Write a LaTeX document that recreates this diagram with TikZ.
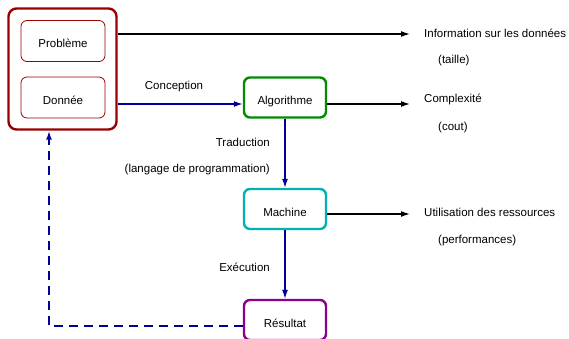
\documentclass[tikz,border=0pt]{standalone}
\usepackage{fontspec}
\setmainfont{Liberation Sans}
\usepackage{xcolor}
\definecolor{pbred}{RGB}{153,0,0}
\definecolor{algogreen}{RGB}{0,140,0}
\definecolor{machcyan}{RGB}{0,178,178}
\definecolor{respurple}{RGB}{140,0,140}
\definecolor{flowblue}{RGB}{0,0,153}
\usetikzlibrary{positioning,arrows.meta}
\tikzset{
  box/.style     ={rectangle,rounded corners=6pt,line width=2.4pt,align=center,
                   minimum width=82pt,minimum height=40pt,text height=15pt,text depth=1pt},
  subbox/.style  ={rectangle,rounded corners=6pt,draw=pbred,line width=0.8pt,
                   minimum width=84pt,minimum height=41pt,text height=15pt,text depth=1pt},
  flow/.style    ={-{Latex[length=9pt,width=6pt]},line width=1.3pt,draw=flowblue},
  outflow/.style ={-{Latex[length=9pt,width=6pt]},line width=1.3pt,draw=black},
  back/.style    ={-{Latex[length=9pt,width=6pt]},line width=2.4pt,draw=flowblue,
                   dash pattern=on 9pt off 6pt},
  lbl/.style     ={inner sep=0pt},
}
\begin{document}
\begin{tikzpicture}[x=1pt,y=-1pt,every node/.style={font=\fontsize{11.5}{13}\selectfont}]
  \useasboundingbox (0,0) rectangle (569,339);
  \node[box,draw=pbred,rounded corners=8pt,minimum width=108pt,minimum height=121pt] (pb) at (62.5,69) {};
  \node[subbox] (prob) at (63,41) {Problème};
  \node[subbox] (don) at (63,97.5) {Donnée};
  \node[box,draw=algogreen] (algo) at (285,97.5) {Algorithme};
  \node[box,draw=machcyan] (mach) at (285,209) {Machine};
  \node[box,draw=respurple] (res) at (285,320) {Résultat};
  % textes de droite
  \node[lbl,anchor=west] (info) at (424,33) {Information sur les données};
  \node[lbl,anchor=west] (taille) at (438,61) {(taille)};
  \node[lbl,anchor=west] (compl) at (424,99) {Complexité};
  \node[lbl,anchor=west] (cout) at (438,128) {(cout)};
  \node[lbl,anchor=west] (util) at (424,212) {Utilisation des ressources};
  \node[lbl,anchor=west] (perf) at (438,241) {(performances)};
  % etiquettes des fleches
  \node[lbl] (concep) at (174,87) {Conception};
  \node[lbl,anchor=east] (trad) at (270,142) {Traduction};
  \node[lbl,anchor=east] (lang) at (270,170) {(langage de programmation)};
  \node[lbl,anchor=east] (exec) at (270,267) {Exécution};
  \coordinate (e1) at (410,34);
  \coordinate (e2) at (410,104);
  \coordinate (e3) at (410,214);
  \coordinate (c1) at (49,326);
  \draw[outflow] (pb.east |- e1) -- (e1);
  \draw[flow] (pb.east |- e2) -- (algo.west |- e2);
  \draw[outflow] (algo.east |- e2) -- (e2);
  \draw[outflow] (mach.east |- e3) -- (e3);
  \draw[flow] (algo) -- (mach);
  \draw[flow] (mach) -- (res);
  \draw[back] (res.west |- c1) -- (c1) -- (c1 |- pb.south);
\end{tikzpicture}
\end{document}
